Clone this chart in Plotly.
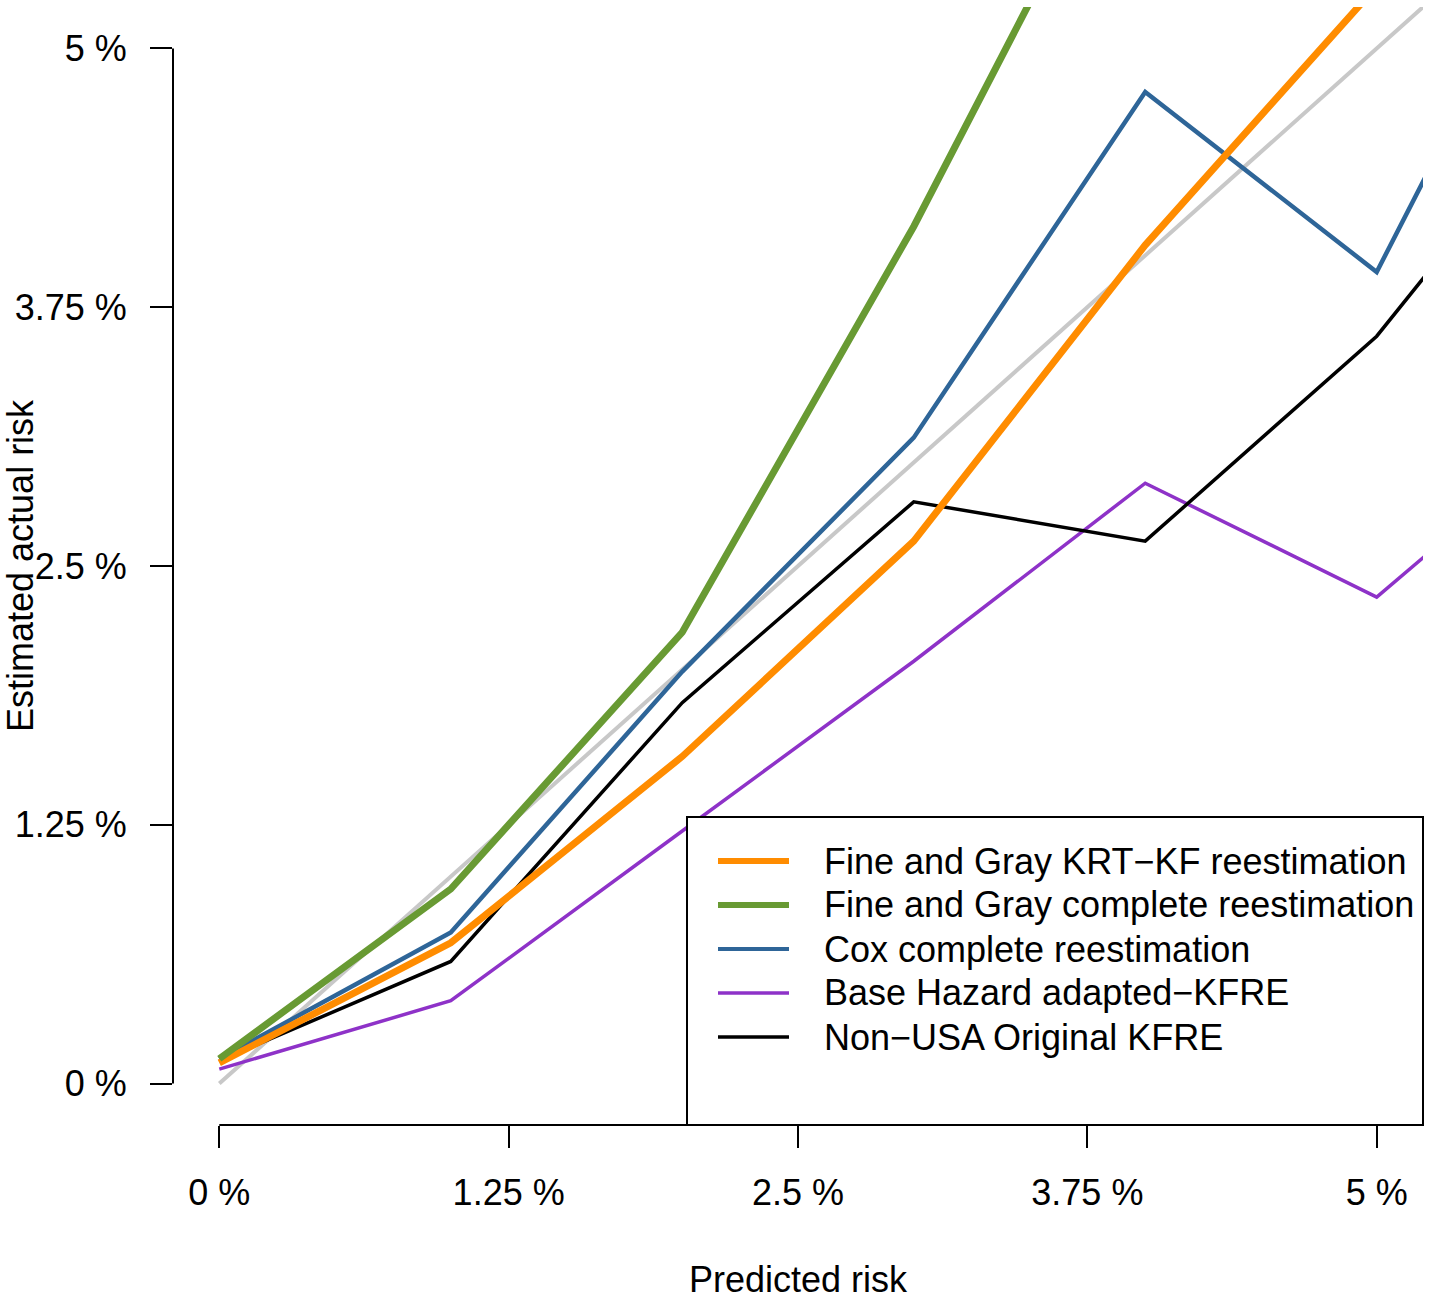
import plotly.graph_objects as go

# --- data (percent) ---
predicted = [0, 1, 2, 3, 4, 5, 6]
fg_krt_kf = [0.10, 0.68, 1.58, 2.62, 4.05, 5.30]
fg_complete = [0.12, 0.94, 2.18, 4.14, 6.30]
cox_complete = [0.12, 0.73, 1.99, 3.12, 4.79, 3.92, 6.10]
base_hazard = [0.07, 0.40, 1.22, 2.04, 2.90, 2.35, 3.30]
non_usa_kfre = [0.11, 0.59, 1.84, 2.81, 2.62, 3.61, 5.00]
ideal_x = [0, 6]
ideal_y = [0, 6]

series_names = [
    "Fine and Gray KRT\u2212KF reestimation",
    "Fine and Gray complete reestimation",
    "Cox complete reestimation",
    "Base Hazard adapted\u2212KFRE",
    "Non\u2212USA Original KFRE",
]
tick_vals = [0, 1.25, 2.5, 3.75, 5]
tick_text = ["0 %", "1.25 %", "2.5 %", "3.75 %", "5 %"]

# styles (legend order)
colors = ["#FF8C00", "#689A33", "#2E6598", "#8E32C8", "#000000"]
widths = [7, 7, 4.5, 3.5, 3.5]
legend_widths = [6, 6, 4, 3.5, 3.5]

FONT = "Liberation Sans, Arial, Helvetica, sans-serif"
FSIZE = 36

fig = go.Figure()

# reference diagonal, drawn first so it sits underneath
fig.add_trace(go.Scatter(x=ideal_x, y=ideal_y, mode="lines",
                         line=dict(color="#C8C8C8", width=4), showlegend=False))

all_series = [fg_krt_kf, fg_complete, cox_complete, base_hazard, non_usa_kfre]
draw_order = [3, 4, 2, 0, 1]
for i in draw_order:
    ys = all_series[i]
    fig.add_trace(go.Scatter(
        x=predicted[:len(ys)], y=ys, mode="lines", name=series_names[i],
        line=dict(color=colors[i], width=widths[i]), showlegend=False,
    ))

# axis lines spanning only the tick range (R style)
shapes = [
    dict(type="line", xref="x", yref="paper", x0=tick_vals[0], x1=tick_vals[-1], y0=0, y1=0,
         line=dict(color="black", width=2)),
    dict(type="line", xref="paper", yref="y", x0=0, x1=0, y0=tick_vals[0], y1=tick_vals[-1],
         line=dict(color="black", width=2)),
]

# hand-drawn legend box (bottom right, white background)
box_left, box_top = 0.4112, 0.2755
shapes.append(dict(type="rect", xref="paper", yref="paper", x0=box_left, x1=1.0, y0=0.0, y1=box_top,
                   line=dict(color="black", width=2), fillcolor="white", layer="above"))
row_y = [0.2361, 0.1968, 0.1574, 0.1181, 0.0787]
annotations = []
for i, name in enumerate(series_names):
    shapes.append(dict(type="line", xref="paper", yref="paper", x0=0.436, x1=0.4928,
                       y0=row_y[i], y1=row_y[i], layer="above",
                       line=dict(color=colors[i], width=legend_widths[i])))
    annotations.append(dict(xref="paper", yref="paper", x=0.5192, y=row_y[i], text=name,
                            showarrow=False, xanchor="left", yanchor="middle",
                            font=dict(size=FSIZE, color="black", family=FONT)))

# axis titles
annotations.append(dict(xref="paper", yref="paper", x=0.5, y=-0.1386, text="Predicted risk",
                        showarrow=False, xanchor="center", yanchor="middle",
                        font=dict(size=FSIZE, color="black", family=FONT)))
annotations.append(dict(xref="paper", yref="paper", x=-0.1224, y=0.5, text="Estimated actual risk",
                        showarrow=False, textangle=-90, xanchor="center", yanchor="middle",
                        font=dict(size=FSIZE, color="black", family=FONT)))

axis_common = dict(
    range=[-0.2, 5.2], tickvals=tick_vals, ticktext=tick_text,
    ticks="outside", ticklen=22, tickwidth=2, tickcolor="black",
    showgrid=False, zeroline=False, showline=False,
    tickfont=dict(size=FSIZE, color="black", family=FONT),
)

fig.update_layout(
    width=1430, height=1300,
    margin=dict(l=173, r=7, t=7, b=175),
    plot_bgcolor="white", paper_bgcolor="white",
    xaxis=dict(**axis_common, ticklabelstandoff=14),
    yaxis=dict(**axis_common, ticklabelstandoff=16),
    shapes=shapes, annotations=annotations,
    showlegend=False,
)

# drop the default page margin so the figure sits at the top-left corner
fig.write_html("out.html", config={"displayModeBar": False},
               post_script="document.body.style.margin='0';")
